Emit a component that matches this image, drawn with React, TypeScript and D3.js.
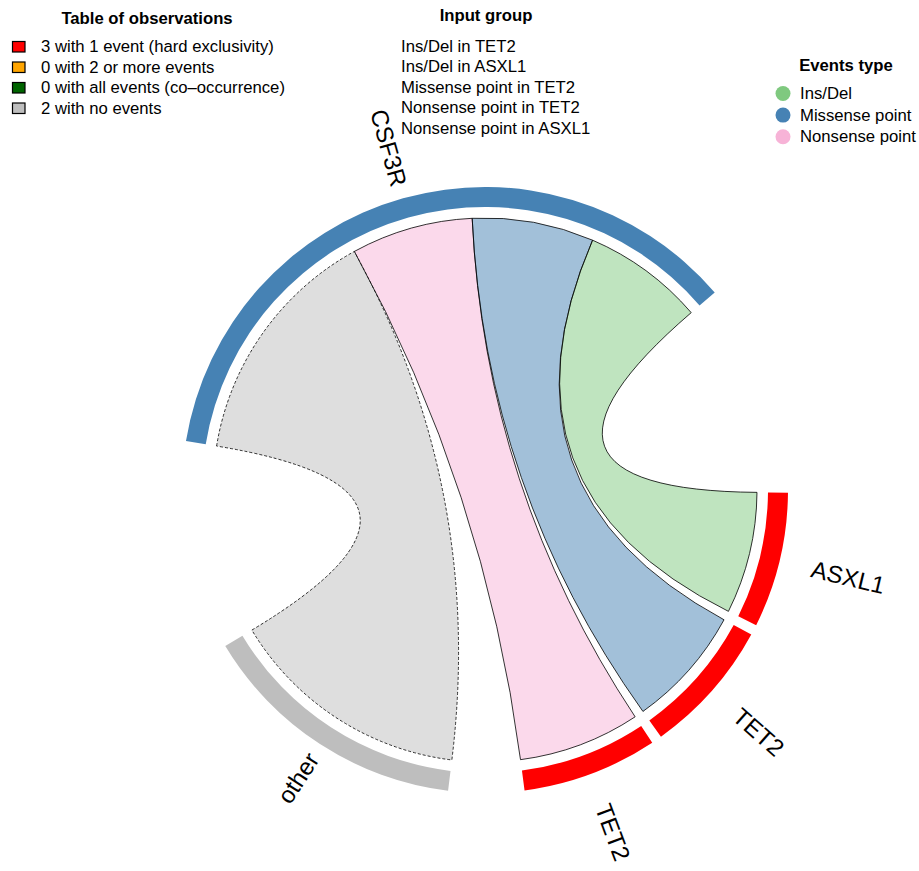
import React from "react";
import * as d3 from "d3";

// ---- data ----
const sectorNames = ["ASXL1", "TET2", "TET2", "other", "CSF3R"];
const sectorValues = [1, 1, 1, 2, 5];
const sectorColors = ["#FF0000", "#FF0000", "#FF0000", "#BEBEBE", "#4682B4"];
const gapAfter = [2, 2, 14.5, 40.3, 41.2]; // degrees

// links: from CSF3R to target sector (index), value, colour
const linkSource = [4, 4, 4, 4];
const linkTarget = [3, 2, 1, 0];
const linkValues = [2, 1, 1, 1];
const linkColors = ["#BEBEBE", "#F7B3D7", "#4682B4", "#7FC97F"];
const linkDashed = [true, false, false, false];

const obsLabels = [
  "3 with 1 event (hard exclusivity)",
  "0 with 2 or more events",
  "0 with all events (co\u2013occurrence)",
  "2 with no events",
];
const obsColors = ["#FF0000", "#FFA500", "#006400", "#BEBEBE"];

const inputGroups = [
  "Ins/Del in TET2",
  "Ins/Del in ASXL1",
  "Missense point in TET2",
  "Nonsense point in TET2",
  "Nonsense point in ASXL1",
];

const eventTypes = ["Ins/Del", "Missense point", "Nonsense point"];
const eventColors = ["#7FC97F", "#4682B4", "#F7B3D7"];

// ---- layout ----
const W = 919;
const H = 871;
const cx = 485;
const cy = 490;
const startDeg = 0.5;
const rOuter = 303;
const rInner = 283;
const rLink = 272;
const FONT = "Liberation Sans, Arial, Helvetica, sans-serif";

export default function App() {
  const total = d3.sum(sectorValues);
  const gapTotal = d3.sum(gapAfter);
  const unit = (360 - gapTotal) / total;
  const deg = d3.scaleLinear().domain([0, 1]).range([0, unit]);

  // sector angles (screen degrees, clockwise from 3 o'clock)
  const sectors: { name: string; a0: number; a1: number; color: string }[] = [];
  let cur = startDeg;
  sectorValues.forEach((v, i) => {
    const a0 = cur;
    const a1 = cur + deg(v);
    sectors.push({ name: sectorNames[i], a0, a1, color: sectorColors[i] });
    cur = a1 + gapAfter[i];
  });

  const toRad = (d: number) => ((d + 90) * Math.PI) / 180; // d3 angle convention

  const arcGen = d3.arc<any>().innerRadius(rInner).outerRadius(rOuter);
  const ribbon = d3.ribbon<any, any>().radius(rLink);

  // link positions: within each sector, fill clockwise in link order
  const used = sectorValues.map(() => 0);
  const links = linkValues.map((v, i) => {
    const s = linkSource[i];
    const t = linkTarget[i];
    const sa0 = sectors[s].a0 + deg(used[s]);
    used[s] += v;
    const sa1 = sectors[s].a0 + deg(used[s]);
    const ta0 = sectors[t].a0 + deg(used[t]);
    used[t] += v;
    const ta1 = sectors[t].a0 + deg(used[t]);
    const d = ribbon({
      source: { startAngle: toRad(sa0), endAngle: toRad(sa1) },
      target: { startAngle: toRad(ta0), endAngle: toRad(ta1) },
    } as any) as unknown as string;
    return { d, color: linkColors[i], dashed: linkDashed[i] };
  });

  return (
    <div style={{ position: "absolute", left: 0, top: 0 }}>
      <svg width={W} height={H} style={{ display: "block", background: "#fff" }} fontFamily={FONT}>
        <g transform={`translate(${cx},${cy})`}>
          {links.map((l, i) => (
            <path
              key={i}
              d={l.d}
              fill={l.color}
              fillOpacity={0.5}
              stroke="#000"
              strokeWidth={0.8}
              strokeDasharray={l.dashed ? "3,2" : undefined}
            />
          ))}
          {sectors.map((s, i) => (
            <path
              key={i}
              d={arcGen({ startAngle: toRad(s.a0), endAngle: toRad(s.a1) }) as string}
              fill={s.color}
            />
          ))}
          {sectors.map((s, i) => {
            const mid = (s.a0 + s.a1) / 2;
            const m = ((mid % 360) + 360) % 360;
            const flip = m > 90 && m < 270;
            const r = flip ? 316 : 336;
            const x = r * Math.cos((mid * Math.PI) / 180);
            const y = r * Math.sin((mid * Math.PI) / 180);
            return (
              <text
                key={i}
                transform={`translate(${x},${y}) rotate(${flip ? mid - 180 : mid})`}
                textAnchor={flip ? "end" : "start"}
                dominantBaseline="central"
                fontSize={24}
                fill="#000"
              >
                {s.name}
              </text>
            );
          })}
        </g>

        {/* Table of observations */}
        <text x={147} y={18} textAnchor="middle" dominantBaseline="central" fontWeight="bold" fontSize={16.7}>
          Table of observations
        </text>
        {obsLabels.map((t, i) => (
          <g key={i}>
            <rect x={12.5} y={41.5 + i * 20.5} width={12.5} height={10.5} fill={obsColors[i]} stroke="#000" strokeWidth={1.2} />
            <text x={41} y={46.7 + i * 20.5} dominantBaseline="central" fontSize={16.7}>
              {t}
            </text>
          </g>
        ))}

        {/* Input group */}
        <text x={486} y={15} textAnchor="middle" dominantBaseline="central" fontWeight="bold" fontSize={16.7}>
          Input group
        </text>
        {inputGroups.map((t, i) => (
          <text key={i} x={401} y={46 + i * 20.6} dominantBaseline="central" fontSize={16.7}>
            {t}
          </text>
        ))}

        {/* Events type */}
        <text x={846} y={65} textAnchor="middle" dominantBaseline="central" fontWeight="bold" fontSize={16.7}>
          Events type
        </text>
        {eventTypes.map((t, i) => (
          <g key={i}>
            <circle cx={783} cy={93.5 + i * 21.6} r={7.5} fill={eventColors[i]} />
            <text x={800} y={93.5 + i * 21.6} dominantBaseline="central" fontSize={16.7}>
              {t}
            </text>
          </g>
        ))}
      </svg>
    </div>
  );
}
